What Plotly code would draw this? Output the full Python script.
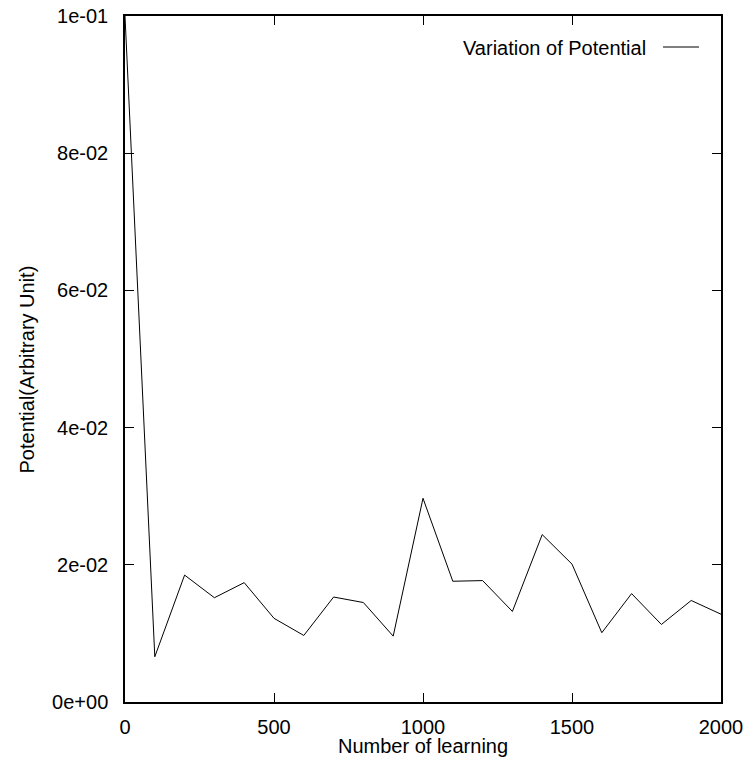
import plotly.graph_objects as go

learning = [0, 100, 200, 300, 400, 500, 600, 700, 800, 900, 1000,
            1100, 1200, 1300, 1400, 1500, 1600, 1700, 1800, 1900, 2000]
potential = [0.1, 0.0066, 0.0185, 0.0152, 0.0174, 0.0122, 0.0097, 0.0153, 0.0145, 0.0096, 0.0297,
             0.0176, 0.0177, 0.0132, 0.0244, 0.0201, 0.0101, 0.0158, 0.0113, 0.0148, 0.0128]

y_tick_vals = [0, 0.02, 0.04, 0.06, 0.08, 0.1]
y_tick_text = ["0e+00", "2e-02", "4e-02", "6e-02", "8e-02", "1e-01"]
x_tick_vals = [0, 500, 1000, 1500, 2000]
series_name = "Variation of Potential"

FONT = "Liberation Sans, Arial, Helvetica, sans-serif"
L, R, T, B = 125, 721, 16, 702
PW, PH = R - L, B - T

fig = go.Figure()
fig.add_trace(go.Scatter(x=learning, y=potential, mode="lines",
                         line=dict(color="black", width=1), name=series_name,
                         showlegend=False))

fig.update_layout(
    width=745, height=757,
    margin=dict(l=L, r=745 - R, t=T, b=757 - B, autoexpand=False),
    paper_bgcolor="white", plot_bgcolor="white",
    font=dict(family=FONT, size=20, color="black"),
    xaxis=dict(range=[0, 2000], tickvals=x_tick_vals, ticks="inside", ticklen=9,
               tickwidth=1, tickcolor="black", showline=True, linecolor="black",
               linewidth=1.5, mirror="ticks", showgrid=False, zeroline=False,
               ticklabelstandoff=6, automargin=False),
    yaxis=dict(range=[0, 0.1], tickvals=y_tick_vals, ticktext=y_tick_text, ticks="inside",
               ticklen=9, tickwidth=1, tickcolor="black", showline=True, linecolor="black",
               linewidth=1.5, mirror="ticks", showgrid=False, zeroline=False,
               ticklabelstandoff=11, automargin=False),
)

# axis titles
fig.add_annotation(text="Potential(Arbitrary Unit)", xref="paper", yref="paper",
                   x=-(L - 26) / PW, y=(B - 369.5) / PH, textangle=-90,
                   showarrow=False, xanchor="center", yanchor="middle",
                   font=dict(family=FONT, size=20, color="black"))
fig.add_annotation(text="Number of learning", xref="paper", yref="paper",
                   x=(423 - L) / PW, y=(B - 746) / PH,
                   showarrow=False, xanchor="center", yanchor="middle",
                   font=dict(family=FONT, size=20, color="black"))

# legend (gnuplot style: text then line sample)
fig.add_annotation(text=series_name, xref="paper", yref="paper",
                   x=(648 - L) / PW, y=(B - 48) / PH, showarrow=False,
                   xanchor="right", yanchor="middle",
                   font=dict(family=FONT, size=20, color="black"))
fig.add_shape(type="line", xref="paper", yref="paper",
              x0=(663 - L) / PW, x1=(699 - L) / PW,
              y0=(B - 47) / PH, y1=(B - 47) / PH,
              line=dict(color="black", width=1))

fig.write_html("out.html", config={"displayModeBar": False},
               post_script="document.body.style.margin='0';document.body.style.overflow='hidden';")
